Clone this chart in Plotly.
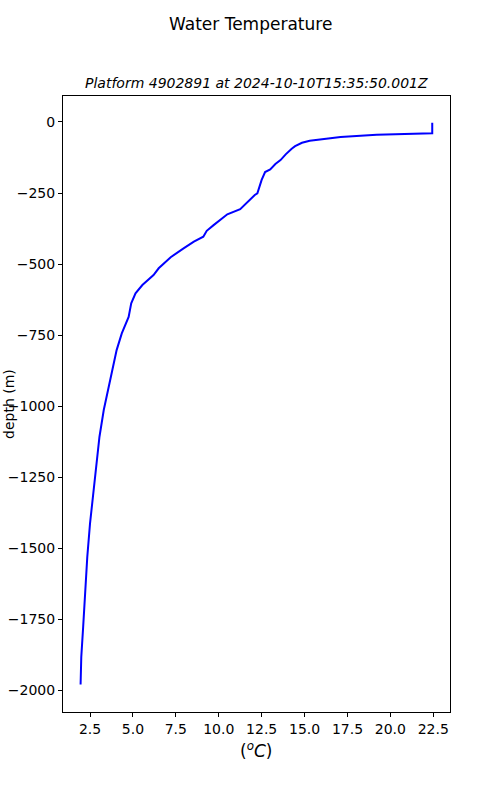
import plotly.graph_objects as go

# profile (surface -> bottom)
depth = [-3, -40, -45, -53, -66, -73, -85, -94, -114, -134, -148, -167, -176, -204,
         -251, -257, -307, -325, -363, -383, -404, -421, -445, -476, -515, -539,
         -574, -603, -638, -686, -744, -803, -873, -955, -1014, -1108, -1202,
         -1319, -1413, -1531, -1671, -1777, -1883, -1980]
temp = [22.44, 22.44, 19.2, 17.1, 15.3, 14.85, 14.45, 14.25, 13.9, 13.6, 13.3, 13.0,
        12.7, 12.5, 12.25, 12.1, 11.25, 10.5, 9.7, 9.3, 9.1, 8.55, 7.95, 7.2, 6.5,
        6.2, 5.55, 5.15, 4.9, 4.75, 4.35, 4.05, 3.8, 3.5, 3.3, 3.05, 2.88, 2.66, 2.5,
        2.34, 2.22, 2.1, 1.99, 1.95]

x_ticks = [2.5, 5.0, 7.5, 10.0, 12.5, 15.0, 17.5, 20.0, 22.5]
y_ticks = [0, -250, -500, -750, -1000, -1250, -1500, -1750, -2000]

FONT = "DejaVu Sans"
# plot box in page pixels: x 63..450, y 96..712
PW, PH = 387, 616

fig = go.Figure(go.Scatter(
    x=temp, y=depth, mode="lines",
    line=dict(color="#0000ff", width=2),
    showlegend=False, hoverinfo="skip",
))

axis_common = dict(
    showline=True, mirror=True, linecolor="black", linewidth=1,
    ticks="outside", ticklen=4, tickwidth=1, tickcolor="black",
    showgrid=False, zeroline=False, automargin=False,
    tickfont=dict(family=FONT, size=14, color="black"),
)

fig.update_layout(
    width=500, height=800,
    paper_bgcolor="white", plot_bgcolor="white",
    margin=dict(l=63, r=50, t=96, b=88),
    font=dict(family=FONT, color="black"),
    xaxis=dict(axis_common, range=[0.925, 23.475], tickvals=x_ticks,
               ticktext=[f"{v:.1f}" for v in x_ticks]),
    yaxis=dict(axis_common, range=[-2077, 91.5], tickvals=y_ticks),
)


def page_x(px):
    return (px - 63) / PW


def page_y(py):
    return 1 - (py - 96) / PH


fig.add_annotation(text="Water Temperature", xref="paper", yref="paper",
                   x=page_x(250), y=page_y(24), showarrow=False,
                   font=dict(size=17, family=FONT), xanchor="center", yanchor="middle")
fig.add_annotation(text="<i>Platform 4902891 at 2024-10-10T15:35:50.001Z</i>",
                   xref="paper", yref="paper", x=page_x(256), y=page_y(83),
                   showarrow=False, font=dict(size=14, family=FONT),
                   xanchor="center", yanchor="middle")
fig.add_annotation(text="(<i><sup>o</sup>C</i>)", xref="paper", yref="paper",
                   x=page_x(256), y=page_y(750), showarrow=False,
                   font=dict(size=17, family=FONT), xanchor="center", yanchor="middle")
fig.add_annotation(text="depth (m)", xref="paper", yref="paper",
                   x=page_x(9), y=page_y(404), showarrow=False, textangle=-90,
                   font=dict(size=14, family=FONT), xanchor="center", yanchor="middle")

# drop the default body margin so the figure sits at the page corner
fig.write_html("out.html", config={"displayModeBar": False},
               post_script="document.body.style.margin='0';")
